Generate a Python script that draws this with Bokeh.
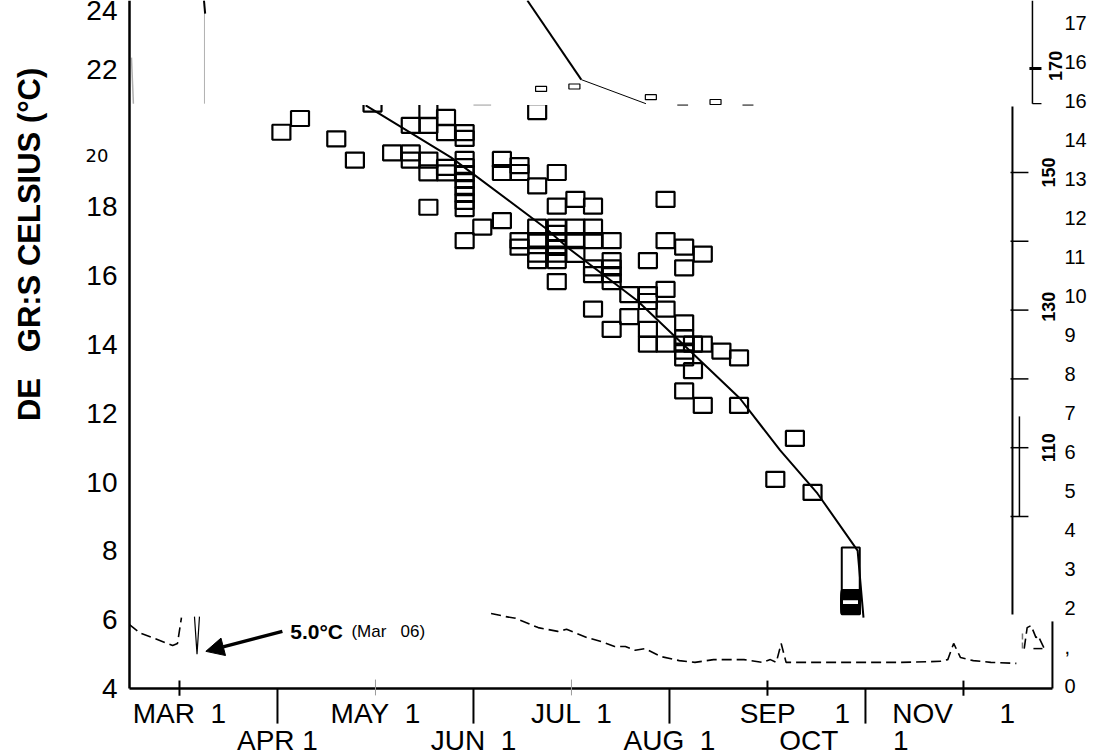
import math
from bokeh.plotting import figure
from bokeh.models import (Range1d, LinearAxis, FixedTicker, ColumnDataSource,
                          LabelSet, Arrow, NormalHead)
from bokeh.core.properties import value
from bokeh.embed import file_html
from bokeh.resources import INLINE

FONT = "Liberation Sans"
NB = "\u00a0"

# ---------------------------------------------------------------------------
# Data. Dates are month numbers (3 = Mar 1, 4 = Apr 1, ...), temperatures in deg C
# ---------------------------------------------------------------------------
obs_month = [
    4.04, 4.23, 4.60, 4.79, 4.97, 5.17,
    5.36, 5.54, 5.54, 5.72, 5.72, 5.91, 5.91,
    5.36, 5.36, 5.54, 5.54, 5.72, 5.72,
    5.91, 5.91, 5.91, 5.91, 5.91, 5.91, 5.91, 5.91,
    6.09, 6.29, 5.91, 5.54, 6.65,
    6.29, 6.29, 6.47, 6.47, 6.65, 6.85,
    7.04, 6.85, 7.22, 7.96,
    6.65, 6.85, 7.04, 7.22,
    6.47, 6.47, 6.65, 6.65, 6.65,
    6.85, 6.85, 6.85, 6.85, 6.85,
    7.04, 7.22, 7.41, 7.04, 7.22, 6.85,
    7.41, 7.41, 7.41, 7.41, 7.22,
    7.59, 7.78, 7.78, 7.96, 7.96, 7.78,
    7.96, 8.15, 8.34, 8.15,
    7.22, 7.41, 7.59, 7.78, 7.78, 7.96,
    8.15, 8.15, 8.15, 8.15, 8.15,
    8.24, 8.34, 8.53, 8.71,
    8.24, 8.15, 8.34, 8.71,
    9.28, 9.08, 9.46,
    9.85, 9.85, 9.85, 9.85, 9.85, 9.85, 9.85, 9.85, 9.85, 9.85, 9.85,
]
obs_temp = [
    20.17, 20.57, 19.98, 19.36, 20.99, 19.57,
    20.37, 20.37, 20.80, 20.60, 20.16, 20.16, 19.99,
    19.57, 19.36, 19.36, 18.99, 19.15, 18.99,
    19.38, 19.17, 18.97, 18.77, 18.56, 18.36, 18.16, 17.95,
    17.41, 17.60, 17.02, 17.99, 20.77,
    19.38, 19.00, 19.20, 19.00, 18.61, 19.00,
    18.22, 18.02, 18.02, 18.22,
    17.41, 17.41, 17.41, 17.41,
    17.02, 16.83, 17.02, 16.63, 16.44,
    17.23, 17.02, 16.82, 16.63, 16.44,
    17.02, 17.02, 17.02, 16.62, 16.23, 15.83,
    16.44, 16.23, 16.03, 15.83, 16.03,
    15.45, 15.45, 15.25, 15.60, 15.03, 16.44,
    17.02, 16.83, 16.63, 16.23,
    15.03, 14.44, 14.81, 14.44, 14.01, 14.01,
    14.63, 14.20, 14.01, 13.81, 13.61,
    14.01, 14.01, 13.81, 13.61,
    13.24, 12.65, 12.23, 12.23,
    11.27, 10.08, 9.70,
    6.64, 6.61, 6.58, 6.55, 6.52, 6.49, 6.46, 6.43, 6.41, 6.39, 6.38,
]

# spread of the late-September readings
sept_month = 9.85
sept_top = 8.10
sept_bottom = 6.18

# fitted seasonal trend
trend_month = [4.90, 5.77, 6.74, 6.96, 7.67, 8.72, 9.13, 9.51, 9.92, 9.98]
trend_temp = [20.95, 19.44, 17.37, 16.82, 15.28, 12.43, 10.92, 9.67, 8.01, 6.06]

# minimum-temperature record, early March
early_month = [2.49, 2.60, 2.75, 2.93, 2.98, 3.02]
early_temp = [5.86, 5.61, 5.45, 5.25, 5.31, 6.06]
dip_month = [3.153, 3.179, 3.204]
dip_temp = [6.09, 5.0, 6.09]
dip_date = "Mar   06"

# minimum-temperature record, late June onward
late_month = [6.18, 6.33, 6.43, 6.66, 6.86, 6.95, 7.16, 7.33, 7.44, 7.55, 7.65,
              7.75, 7.91, 8.10, 8.26, 8.45, 8.76, 8.95, 9.03, 9.09, 9.14, 9.19,
              9.38, 9.85, 10.36, 10.77, 10.84, 10.90, 10.97, 11.10, 11.28, 11.54]
late_temp = [6.18, 6.09, 6.04, 5.77, 5.66, 5.72, 5.48, 5.34, 5.22, 5.22, 5.11,
             5.16, 4.93, 4.81, 4.76, 4.84, 4.84, 4.76, 4.84, 4.76, 5.31, 4.76,
             4.76, 4.76, 4.76, 4.79, 4.84, 5.31, 4.90, 4.81, 4.76, 4.73]
tail_month = [11.62, 11.65, 11.69, 11.74, 11.76, 11.82]
tail_temp = [5.16, 5.77, 5.83, 5.48, 5.54, 5.19]

# upper panel trace and its points
inset_month = [6.55, 7.10]
inset_temp = [24.0, 21.70]
inset_tail_month = [7.10, 7.76]
inset_tail_temp = [21.70, 21.0]
inset_pt_month = [6.69, 7.03, 7.81, 8.47]
inset_pt_temp = [21.43, 21.50, 21.19, 21.05]

# axes: ticks and labels
left_ticks = [4, 6, 8, 10, 12, 14, 16, 18, 20, 22, 24]
right_ticks = list(range(0, 18))
right_overrides = {1: ",", 15: "16"}
month_ticks_long = [4, 6, 8, 10]
month_ticks_black = [3, 9, 11]
month_ticks_grey = [5, 7]
top_labels = ["MAR" + NB * 2 + "1", "MAY" + NB * 2 + "1", "JUL" + NB * 2 + "1",
              "SEP" + NB * 5 + "1", "NOV" + NB * 6 + "1"]
top_label_pos = [3.0, 5.0, 7.0, 9.28, 10.90]
bottom_labels = ["APR" + NB + "1", "JUN" + NB * 2 + "1", "AUG" + NB * 2 + "1",
                 "OCT" + NB * 7 + "1"]
bottom_label_pos = [4.0, 6.0, 8.0, 9.78]
axis_title = "DE" + NB * 3 + "GR:S CELSIUS (°C)"

# secondary scale drawn at the right
scale_ticks = [19, 17, 15, 13, 11, 9]
day_labels = ["110", "130", "150", "170"]
day_label_temp = [11.0, 15.1, 19.0, 22.1]

# ---------------------------------------------------------------------------
PX_PER_DEG = 34.4
PX_PER_MONTH = 98.0
X_LEFT = 2.49      # month at the left axis
X_RIGHT = 11.929   # month at the right scale
p = figure(width=1096, height=756, output_backend="svg", toolbar_location=None,
           x_range=Range1d(X_LEFT - 129 / PX_PER_MONTH, X_RIGHT + 42 / PX_PER_MONTH),
           y_range=Range1d(24 - 756 / PX_PER_DEG, 24),
           x_axis_location=None,
           min_border_left=0, min_border_right=0,
           min_border_top=0, min_border_bottom=0,
           outline_line_color=None, background_fill_color="white",
           border_fill_color="white")
p.grid.grid_line_color = None

yax = p.yaxis[0]
yax.fixed_location = X_LEFT
yax.ticker = FixedTicker(ticks=left_ticks)
yax.bounds = (4, 24)
yax.major_tick_in = 0
yax.major_tick_out = 0
yax.minor_tick_in = 0
yax.minor_tick_out = 0
yax.major_label_standoff = 12
yax.major_label_text_font = FONT
yax.major_label_text_font_size = "28px"
yax.major_label_text_color = "black"
yax.major_label_overrides = {20: ""}
yax.axis_line_width = 2.5
yax.axis_line_color = "black"

p.extra_y_ranges = {"scale": Range1d(-71 / 39, 685 / 39)}
rax = LinearAxis(y_range_name="scale", ticker=FixedTicker(ticks=right_ticks),
                 fixed_location=X_RIGHT,
                 major_label_overrides=right_overrides,
                 axis_line_color=None, major_tick_in=0, major_tick_out=0,
                 minor_tick_in=0, minor_tick_out=0, major_label_standoff=10,
                 major_label_text_font=FONT, major_label_text_font_size="20px",
                 major_label_text_color="black")
p.add_layout(rax, "right")

# bottom axis line, month ticks and labels
x_end = 11.908
p.line([X_LEFT, x_end], [4, 4], line_color="black", line_width=2.5)
p.segment(x0=month_ticks_long, y0=[4] * 4, x1=month_ticks_long, y1=[2.98] * 4,
          line_color="black", line_width=2)
p.segment(x0=month_ticks_black, y0=[4.23] * 3, x1=month_ticks_black, y1=[3.79] * 3,
          line_color="black", line_width=2)
p.segment(x0=month_ticks_grey, y0=[4.26] * 2, x1=month_ticks_grey, y1=[3.80] * 2,
          line_color="#9a9a9a", line_width=1)
p.line([x_end, x_end], [4, 5.95], line_color="black", line_width=2)

p.text(x=top_label_pos, y=[3.27] * len(top_labels), text=top_labels,
       text_font=value(FONT), text_font_size="28px", text_color="black",
       text_align="center", text_baseline="middle")
p.text(x=bottom_label_pos, y=[2.49] * len(bottom_labels), text=bottom_labels,
       text_font=value(FONT), text_font_size="28px", text_color="black",
       text_align="center", text_baseline="middle")

# vertical axis title and the small "20" beside the axis
p.text(x=[1.469], y=[16.91], text=[axis_title], angle=math.pi / 2,
       text_font=value(FONT), text_font_style="bold", text_font_size="31px",
       text_color="black", text_align="center", text_baseline="middle")
p.text(x=[2.2755], y=[19.49], text=["20"], text_font=value("DejaVu Sans"),
       text_font_size="18px", text_color="black", text_align="right",
       text_baseline="middle")

# observations
p.rect(x=obs_month, y=obs_temp, width=18, height=15, width_units="screen",
       height_units="screen", fill_color=None, line_color="black", line_width=2.2)
p.rect(x=[sept_month], y=[(sept_top + sept_bottom) / 2], width=18,
       height=[sept_top - sept_bottom], width_units="screen",
       fill_color=None, line_color="black", line_width=2)
p.line(trend_month, trend_temp, line_color="black", line_width=2)

# upper panel
p.quad(left=[4.6], right=[7.3], bottom=[20.96], top=[24], fill_color="white",
       line_color=None)
p.line(inset_month, inset_temp, line_color="black", line_width=2)
p.line(inset_tail_month, inset_tail_temp, line_color="black", line_width=1)
p.rect(x=inset_pt_month, y=inset_pt_temp, width=11, height=5, width_units="screen",
       height_units="screen", fill_color=None, line_color="black", line_width=1.2)
p.segment(x0=[6.0], y0=[20.96], x1=[6.18], y1=[20.96], line_color="#9a9a9a", line_width=1)
p.segment(x0=[8.08, 8.745], y0=[20.96, 20.96], x1=[8.19, 8.857], y1=[20.96, 20.96],
          line_color="black", line_width=1)
p.line([3.255, 3.255], [21.0, 24], line_color="#b0b0b0", line_width=1)
p.line([3.25, 3.262], [24, 23.62], line_color="black", line_width=2)
p.line([2.51, 2.53], [22.34, 21.0], line_color="#b0b0b0", line_width=1.5)

# secondary scale at the right
p.line([11.5, 11.5], [6.15, 20.92], line_color="black", line_width=2)
p.segment(x0=[11.48] * 6, y0=scale_ticks, x1=[11.663] * 6, y1=scale_ticks,
          line_color="black", line_width=1.5)
p.line([11.571, 11.571], [9.0, 11.91], line_color="black", line_width=1.5)
p.line([11.704, 11.704], [21.0, 24], line_color="black", line_width=1.5)
p.segment(x0=[11.673, 11.704], y0=[22.02, 21.0], x1=[11.796, 11.796], y1=[22.02, 21.0],
          line_color="black", line_width=[3, 1.2])
day_src = ColumnDataSource(dict(x=[11.867, 11.867, 11.867, 11.935],
                                y=day_label_temp, text=day_labels))
p.add_layout(LabelSet(x="x", y="y", text="text", source=day_src, angle=math.pi / 2,
                      text_align="center", text_baseline="middle",
                      text_font=value(FONT), text_font_style="bold",
                      text_font_size="18px", text_color="black"))

# minimum-temperature record
dash = dict(line_color="black", line_width=1.6, line_dash="10 5")
p.line(early_month, early_temp, **dash)
p.line(dip_month, dip_temp, line_color="black", line_width=1.2)
p.line(late_month, late_temp, **dash)
p.line(tail_month, tail_temp, **dash)
p.line([11.714, 11.806], [5.16, 5.16], line_color="black", line_width=1.5)
p.line([11.602, 11.602], [5.16, 5.68], line_color="#777777", line_width=1.5, line_dash="6 3")

dip_min = min(dip_temp)
p.add_layout(Arrow(end=NormalHead(size=18, fill_color="black", line_color="black"),
                   x_start=4.05, y_start=dip_min + 0.66,
                   x_end=dip_month[1] + 0.09, y_end=dip_min + 0.08,
                   line_color="black", line_width=3.5))
p.text(x=[4.13], y=[dip_min + 0.66], text=[f"{dip_min:.1f}°C"],
       text_font=value(FONT), text_font_style="bold", text_font_size="21px",
       text_color="black", text_align="left", text_baseline="middle")
p.text(x=[4.755], y=[dip_min + 0.66], text=[f"({dip_date.replace(' ', NB)})"],
       text_font=value(FONT), text_font_size="17px", text_color="black",
       text_align="left", text_baseline="middle")

open("out.html", "w").write(file_html(p, INLINE))
